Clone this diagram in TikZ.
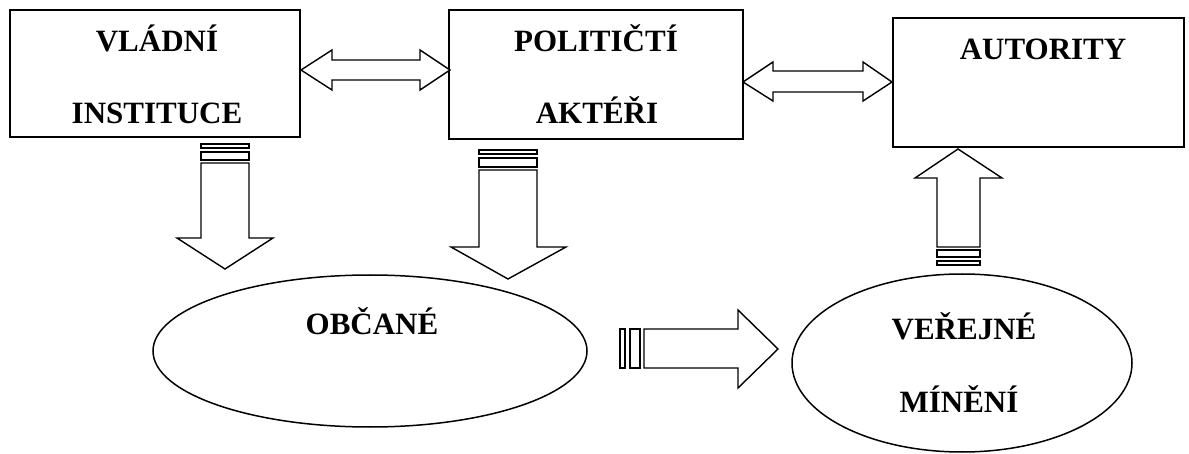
\documentclass[tikz,border=0pt]{standalone}
\usepackage{fontspec}
\setmainfont{Liberation Serif}
\usetikzlibrary{shapes.geometric}
\begin{document}
\begin{tikzpicture}[x=1pt,y=-1pt,
  box/.style={draw,line width=1.5pt,inner sep=0pt,rectangle},
  oval/.style={draw,line width=1.5pt,inner sep=0pt,ellipse},
  lbl/.style={anchor=base,inner sep=0pt,font=\bfseries\fontsize{31}{36}\selectfont},
  blockarrow/.style={draw,line width=1.4pt,fill=white,line join=miter},
  stripe/.style={draw,line width=1.4pt,fill=white}]
\useasboundingbox (0,0) rectangle (1189,454);
% boxes
\node[box,minimum width=290pt,minimum height=127pt] (vi) at (155,73.5) {};
\node[box,minimum width=294pt,minimum height=129pt] (pa) at (596,74.5) {};
\node[box,minimum width=291pt,minimum height=129pt] (au) at (1038.5,82.5) {};
% ellipses
\node[oval,minimum width=434pt,minimum height=152pt] (ob) at (370,351) {};
\node[oval,minimum width=340pt,minimum height=178pt] (vm) at (962,363) {};
% labels
\node[lbl] (t1) at (157,52) {VLÁDNÍ};
\node[lbl] (t2) at (157,124) {INSTITUCE};
\node[lbl] (t3) at (596,52) {POLITIČTÍ};
\node[lbl] (t4) at (597,124) {AKTÉŘI};
\node[lbl] (t5) at (1043,60) {AUTORITY};
\node[lbl] (t6) at (372,335) {OBČANÉ};
\node[lbl] (t7) at (964,340) {VEŘEJNÉ};
\node[lbl] (t8) at (959,412) {MÍNĚNÍ};
% double arrow vi <-> pa
\draw[blockarrow] (301,70) -- (332,50) -- (332,60) -- (420,60) -- (420,50) -- (450,70)
  -- (420,90) -- (420,80) -- (332,80) -- (332,90) -- cycle;
% double arrow pa <-> au
\draw[blockarrow] (743,82) -- (773,62) -- (773,71) -- (863,71) -- (863,62) -- (892,82)
  -- (863,101) -- (863,92) -- (773,92) -- (773,101) -- cycle;
% down arrow vi -> ob
\draw[stripe] (201,144) rectangle (249,148);
\draw[stripe] (201,152) rectangle (249,160);
\draw[blockarrow] (201,163) -- (249,163) -- (249,238) -- (273,238) -- (225,269)
  -- (177,238) -- (201,238) -- cycle;
% down arrow pa -> ob
\draw[stripe] (479,150) rectangle (537,154);
\draw[stripe] (479,158) rectangle (537,167);
\draw[blockarrow] (479,170) -- (537,170) -- (537,247) -- (566,247) -- (508,279)
  -- (451,247) -- (479,247) -- cycle;
% up arrow vm -> au
\draw[stripe] (937,250) rectangle (980,257);
\draw[stripe] (937,261) rectangle (980,265);
\draw[blockarrow] (937,247) -- (937,178) -- (915,178) -- (958,149) -- (1002,178)
  -- (980,178) -- (980,247) -- cycle;
% right arrow ob -> vm
\draw[stripe] (620,329) rectangle (625,368);
\draw[stripe] (630,329) rectangle (640,368);
\draw[blockarrow] (644,329) -- (738,329) -- (738,310) -- (778,349) -- (738,388)
  -- (738,368) -- (644,368) -- cycle;
\end{tikzpicture}
\end{document}
